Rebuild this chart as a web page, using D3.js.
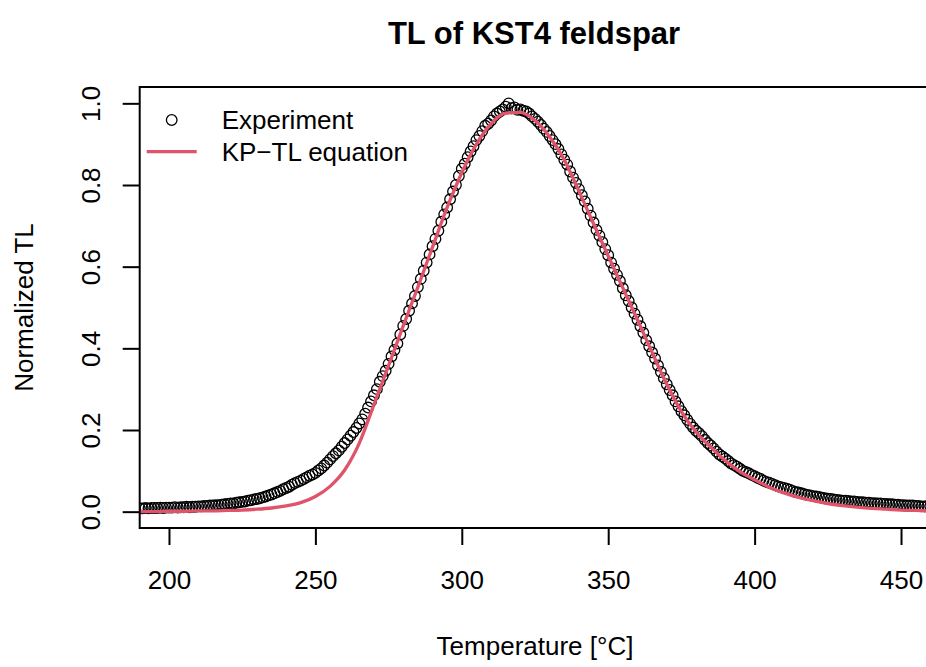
<!DOCTYPE html>
<html lang="en">
  <head>
    <meta charset="utf-8">
    <title>TL of KST4 feldspar</title>
    <style>
      body { margin: 0; background: #fff; }
      text { font-family: "Liberation Sans", Arial, Helvetica, sans-serif; fill: #000; }
    </style>
  </head>
  <body>
<svg id="chart" width="926" height="667"></svg>

<script src="https://d3js.org/d3.v7.min.js"></script>
<script>
  // experiment, every degree
  var expTemp = [
    190,191,192,193,194,195,196,197,198,199,200,201,202,203,204,205,206,207,208,209,
    210,211,212,213,214,215,216,217,218,219,220,221,222,223,224,225,226,227,228,229,
    230,231,232,233,234,235,236,237,238,239,240,241,242,243,244,245,246,247,248,249,
    250,251,252,253,254,255,256,257,258,259,260,261,262,263,264,265,266,267,268,269,
    270,271,272,273,274,275,276,277,278,279,280,281,282,283,284,285,286,287,288,289,
    290,291,292,293,294,295,296,297,298,299,300,301,302,303,304,305,306,307,308,309,
    310,311,312,313,314,315,316,317,318,319,320,321,322,323,324,325,326,327,328,329,
    330,331,332,333,334,335,336,337,338,339,340,341,342,343,344,345,346,347,348,349,
    350,351,352,353,354,355,356,357,358,359,360,361,362,363,364,365,366,367,368,369,
    370,371,372,373,374,375,376,377,378,379,380,381,382,383,384,385,386,387,388,389,
    390,391,392,393,394,395,396,397,398,399,400,401,402,403,404,405,406,407,408,409,
    410,411,412,413,414,415,416,417,418,419,420,421,422,423,424,425,426,427,428,429,
    430,431,432,433,434,435,436,437,438,439,440,441,442,443,444,445,446,447,448,449,
    450,451,452,453,454,455,456,457,458,459,460,461,462,463,464,465,466,467,468,469,470];
  var expTL = [
    0.008,0.008,0.009,0.008,0.009,0.009,0.009,0.010,0.009,0.010,
    0.010,0.010,0.011,0.010,0.011,0.011,0.012,0.011,0.012,0.012,
    0.013,0.013,0.014,0.014,0.015,0.015,0.016,0.016,0.017,0.018,
    0.019,0.020,0.020,0.022,0.023,0.024,0.025,0.027,0.028,0.030,
    0.031,0.033,0.035,0.037,0.040,0.042,0.045,0.048,0.051,0.055,
    0.058,0.061,0.066,0.070,0.073,0.076,0.080,0.084,0.088,0.091,
    0.095,0.101,0.106,0.113,0.120,0.128,0.136,0.143,0.150,0.159,
    0.168,0.177,0.186,0.195,0.205,0.216,0.226,0.240,0.255,0.270,
    0.285,0.300,0.318,0.332,0.345,0.362,0.380,0.396,0.412,0.434,
    0.455,0.472,0.492,0.510,0.528,0.550,0.570,0.590,0.610,0.630,
    0.650,0.668,0.688,0.710,0.728,0.745,0.765,0.784,0.800,0.822,
    0.840,0.852,0.868,0.882,0.895,0.910,0.920,0.932,0.945,0.950,
    0.958,0.968,0.975,0.980,0.985,0.992,1.000,0.988,0.990,0.984,
    0.985,0.982,0.980,0.975,0.968,0.962,0.955,0.947,0.938,0.930,
    0.920,0.910,0.900,0.888,0.875,0.862,0.850,0.833,0.818,0.805,
    0.790,0.775,0.760,0.742,0.725,0.708,0.690,0.676,0.660,0.643,
    0.628,0.610,0.595,0.580,0.565,0.547,0.530,0.516,0.500,0.485,
    0.470,0.454,0.438,0.420,0.405,0.390,0.375,0.358,0.342,0.327,
    0.312,0.298,0.285,0.270,0.258,0.246,0.236,0.225,0.215,0.206,
    0.198,0.192,0.185,0.176,0.168,0.162,0.155,0.147,0.140,0.135,
    0.130,0.124,0.118,0.114,0.110,0.105,0.100,0.097,0.094,0.090,
    0.087,0.083,0.080,0.076,0.073,0.071,0.068,0.065,0.062,0.060,
    0.058,0.056,0.054,0.051,0.048,0.047,0.045,0.043,0.041,0.040,
    0.038,0.037,0.036,0.034,0.033,0.032,0.031,0.030,0.029,0.028,
    0.027,0.027,0.026,0.025,0.025,0.024,0.023,0.023,0.022,0.022,
    0.021,0.021,0.020,0.020,0.019,0.019,0.018,0.018,0.017,0.017,
    0.016,0.016,0.015,0.015,0.015,0.014,0.014,0.013,0.013,0.013,
    0.013,0.012,0.012,0.012,0.012,0.011,0.011,0.011,0.011,0.010,0.010];

  // KP-TL fit curve
  var fitTemp = [190,195,200,205,210,215,220,225,230,235,240,245,250,255,260,265,270,275,280,285,
    290,295,300,305,310,315,320,325,330,335,340,345,350,355,360,365,370,375,380,385,
    390,395,400,405,410,415,420,425,430,435,440,445,450,455,460,465,470];
  var fitTL = [0.000,0.000,0.001,0.001,0.002,0.002,0.003,0.004,0.006,0.009,
    0.014,0.022,0.037,0.062,0.102,0.168,0.262,0.358,0.455,0.550,
    0.648,0.745,0.830,0.900,0.950,0.976,0.978,0.958,0.918,0.862,
    0.785,0.705,0.626,0.548,0.470,0.390,0.312,0.245,0.195,0.158,
    0.125,0.098,0.078,0.060,0.046,0.035,0.027,0.020,0.015,0.011,
    0.008,0.006,0.004,0.003,0.002,0.001,0.001];

  var xTicks = [200, 250, 300, 350, 400, 450];
  var yTicks = [0, 0.2, 0.4, 0.6, 0.8, 1.0];
  var legendLabels = ["Experiment", "KP\u2212TL equation"];

  var svg = d3.select("#chart");
  // plot region (note: "top" is taken by window.top)
  var pLeft = 139.7, pRight = 930.3, pTop = 87, pBottom = 528;
  var fs = 26;
  var red = "#DF536B";
  var rPt = 5.3;

  var x = d3.scaleLinear().domain([190, 460]).range([pLeft, pRight]);
  var y = d3.scaleLinear().domain([-0.04, 1.04]).range([pBottom, pTop]);

  svg.append("clipPath").attr("id", "plotclip")
    .append("rect")
      .attr("x", pLeft).attr("y", pTop)
      .attr("width", pRight - pLeft).attr("height", pBottom - pTop);

  var plot = svg.append("g").attr("clip-path", "url(#plotclip)");

  var expData = expTemp.map((t, i) => ({t: t, v: expTL[i]}));
  var fitData = fitTemp.map((t, i) => ({t: t, v: fitTL[i]}));

  plot.selectAll("circle")
    .data(expData)
    .join("circle")
      .attr("cx", d => x(d.t))
      .attr("cy", d => y(d.v))
      .attr("r", rPt)
      .attr("fill", "none")
      .attr("stroke", "#000")
      .attr("stroke-width", 1.3);

  var line = d3.line()
    .x(d => x(d.t))
    .y(d => y(d.v))
    .curve(d3.curveMonotoneX);

  plot.append("path")
    .attr("d", line(fitData))
    .attr("fill", "none")
    .attr("stroke", red)
    .attr("stroke-width", 3.3);

  // box
  svg.append("rect")
    .attr("x", pLeft).attr("y", pTop)
    .attr("width", pRight - pLeft).attr("height", pBottom - pTop)
    .attr("fill", "none")
    .attr("stroke", "#000")
    .attr("stroke-width", 2);

  // x axis
  var xAxis = svg.append("g")
    .attr("transform", `translate(0,${pBottom})`)
    .call(d3.axisBottom(x).tickValues(xTicks).tickSize(17).tickPadding(26).tickFormat(d3.format("d")));
  xAxis.select(".domain").remove();
  xAxis.selectAll("line").attr("stroke", "#000").attr("stroke-width", 2);
  xAxis.selectAll("text")
    .attr("font-family", null)
    .attr("font-size", fs)
    .attr("fill", "#000");

  // y axis, labels turned like base R
  var yAxis = svg.append("g")
    .attr("transform", `translate(${pLeft},0)`)
    .call(d3.axisLeft(y).tickValues(yTicks).tickSize(17).tickFormat(d3.format(".1f")));
  yAxis.select(".domain").remove();
  yAxis.selectAll("line").attr("stroke", "#000").attr("stroke-width", 2);
  yAxis.selectAll("text")
    .attr("font-family", null)
    .attr("font-size", fs)
    .attr("fill", "#000")
    .attr("x", null).attr("dy", null)
    .attr("text-anchor", "middle")
    .attr("transform", "translate(-40,0) rotate(-90)");

  // titles
  svg.append("text")
    .attr("x", (pLeft + pRight) / 2 - 1)
    .attr("y", 44)
    .attr("text-anchor", "middle")
    .attr("font-size", 31)
    .attr("font-weight", "bold")
    .text("TL of KST4 feldspar");

  svg.append("text")
    .attr("x", (pLeft + pRight) / 2)
    .attr("y", 655)
    .attr("text-anchor", "middle")
    .attr("font-size", fs)
    .text("Temperature [\u00B0C]");

  svg.append("text")
    .attr("transform", `translate(33,${(pTop + pBottom) / 2}) rotate(-90)`)
    .attr("text-anchor", "middle")
    .attr("font-size", fs)
    .text("Normalized TL");

  // legend (no box)
  var legend = svg.append("g");
  legend.append("circle")
    .attr("cx", 171.7).attr("cy", 120).attr("r", rPt)
    .attr("fill", "none").attr("stroke", "#000").attr("stroke-width", 1.3);
  legend.append("line")
    .attr("x1", 146.7).attr("x2", 196.7)
    .attr("y1", 151.7).attr("y2", 151.7)
    .attr("stroke", red).attr("stroke-width", 3.3);
  legend.selectAll("text")
    .data(legendLabels)
    .join("text")
      .attr("x", 221.7)
      .attr("y", (d, i) => 120 + i * 31.7)
      .attr("dy", "0.36em")
      .attr("font-size", fs)
      .text(d => d);
</script>
</body>
</html>
